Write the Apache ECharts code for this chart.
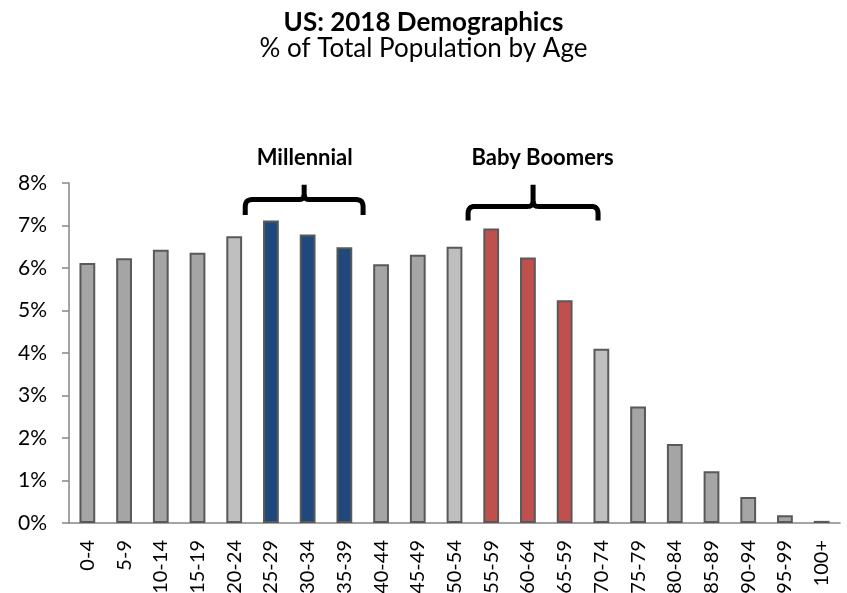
<!DOCTYPE html>
<html>
<head>
<meta charset="utf-8">
<title>US: 2018 Demographics</title>
<script src="https://cdn.jsdelivr.net/npm/echarts@6/dist/echarts.min.js"></script>
<style>
  html, body { margin: 0; padding: 0; background: #fff; }
  #chart { width: 847px; height: 593px; }
</style>
</head>
<body>
<div id="chart"></div>
<script>
// Age bands and share of total population (%)
const ageGroups = ['0-4', '5-9', '10-14', '15-19', '20-24', '25-29', '30-34', '35-39', '40-44', '45-49',
  '50-54', '55-59', '60-64', '65-59', '70-74', '75-79', '80-84', '85-89', '90-94', '95-99', '100+'];
const populationShare = [6.12, 6.23, 6.43, 6.36, 6.75, 7.12, 6.79, 6.49, 6.09, 6.31,
  6.50, 6.93, 6.25, 5.24, 4.10, 2.74, 1.86, 1.22, 0.61, 0.18, 0.05];
const yTicks = [0, 1, 2, 3, 4, 5, 6, 7, 8];

// Generation groupings
const millennialBands = ['25-29', '30-34', '35-39'];
const boomerBands = ['55-59', '60-64', '65-59'];
const boundaryBands = ['20-24', '50-54', '70-74'];

// Bracket annotations: category span (index units), bracket levels (% units)
const brackets = [
  { label: 'Millennial', from: 4.30, to: 7.51, legBottom: 7.25, bar: 7.61, tip: 7.96, labelX: 5.92, labelY: 8.60 },
  { label: 'Baby Boomers', from: 10.37, to: 13.91, legBottom: 7.12, bar: 7.45, tip: 7.96, labelX: 12.4, labelY: 8.60 }
];

const FONT = 'Lato, "Open Sans", "Liberation Sans", sans-serif';

function barColor(band) {
  if (millennialBands.includes(band)) return '#1F497D';
  if (boomerBands.includes(band)) return '#C0504D';
  if (boundaryBands.includes(band)) return '#BFBFBF';
  return '#A5A5A5';
}

const chart = echarts.init(document.getElementById('chart'), null, { renderer: 'canvas' });

const option = {
  backgroundColor: '#ffffff',
  animation: false,
  title: {
    text: 'US: 2018 Demographics',
    subtext: '% of Total Population by Age',
    left: 'center',
    top: 5,
    itemGap: 0,
    textStyle: { fontFamily: FONT, fontSize: 26, fontWeight: 'bold', color: '#000' },
    subtextStyle: { fontFamily: FONT, fontSize: 26, color: '#000' }
  },
  grid: { left: 69, right: 7, top: 183, bottom: 70, containLabel: false, outerBoundsMode: 'none' },
  xAxis: {
    type: 'category',
    data: ageGroups,
    axisLine: { lineStyle: { color: '#868686', width: 1.5 } },
    axisTick: { show: false },
    axisLabel: {
      rotate: 90,
      margin: 17,
      interval: 0,
      fontFamily: FONT,
      fontSize: 20,
      color: '#000'
    }
  },
  yAxis: {
    type: 'value',
    min: yTicks[0],
    max: yTicks[yTicks.length - 1],
    interval: 1,
    splitLine: { show: false },
    axisLine: { show: true, lineStyle: { color: '#868686', width: 1.5 } },
    axisTick: { show: true, length: 7, lineStyle: { color: '#868686', width: 1.5 } },
    axisLabel: {
      margin: 22,
      fontFamily: FONT,
      fontSize: 21,
      color: '#000',
      formatter: v => v + '%'
    }
  },
  series: [{
    type: 'bar',
    barWidth: '43%',
    data: populationShare.map((v, i) => ({
      value: v,
      itemStyle: { color: barColor(ageGroups[i]), borderColor: '#595959', borderWidth: 2 }
    }))
  }]
};

chart.setOption(option);

// Quadratic curve sampled into points (for rounded bracket corners)
function quad(p0, c, p1, n) {
  const pts = [];
  for (let k = 1; k <= n; k++) {
    const t = k / n, u = 1 - t;
    pts.push([u * u * p0[0] + 2 * u * t * c[0] + t * t * p1[0],
              u * u * p0[1] + 2 * u * t * c[1] + t * t * p1[1]]);
  }
  return pts;
}

// Draw the generation brackets and their labels in data space
function drawBrackets() {
  const c0 = chart.convertToPixel({ xAxisIndex: 0 }, 0);
  const step = chart.convertToPixel({ xAxisIndex: 0 }, 1) - c0;
  const px = i => c0 + i * step;
  const py = v => chart.convertToPixel({ yAxisIndex: 0 }, v);
  const r = 7, rm = 5;
  const elements = [];
  brackets.forEach(b => {
    const x1 = px(b.from), x2 = px(b.to), xm = (x1 + x2) / 2;
    const yb = py(b.bar), yl = py(b.legBottom), yt = py(b.tip);
    const style = { fill: null, stroke: '#000', lineWidth: 5, lineJoin: 'round', lineCap: 'butt' };
    // left half: leg, rounded corner, bar, curl up into the centre tip
    let left = [[x1, yl], [x1, yb + r]];
    left = left.concat(quad([x1, yb + r], [x1, yb], [x1 + r, yb], 6));
    left.push([xm - rm, yb]);
    left = left.concat(quad([xm - rm, yb], [xm, yb], [xm, yb - rm], 5));
    left.push([xm, yt]);
    // right half mirrors the left
    let right = [[x2, yl], [x2, yb + r]];
    right = right.concat(quad([x2, yb + r], [x2, yb], [x2 - r, yb], 6));
    right.push([xm + rm, yb]);
    right = right.concat(quad([xm + rm, yb], [xm, yb], [xm, yb - rm], 5));
    elements.push({ type: 'polyline', shape: { points: left }, style: style, z: 10 });
    elements.push({ type: 'polyline', shape: { points: right }, style: style, z: 10 });
    elements.push({
      type: 'text',
      x: px(b.labelX),
      y: py(b.labelY),
      z: 10,
      style: {
        text: b.label,
        font: 'bold 22px ' + FONT,
        fill: '#000',
        align: 'center',
        verticalAlign: 'middle'
      }
    });
  });
  chart.setOption({ graphic: { elements: elements } });
}
drawBrackets();
</script>
</body>
</html>
